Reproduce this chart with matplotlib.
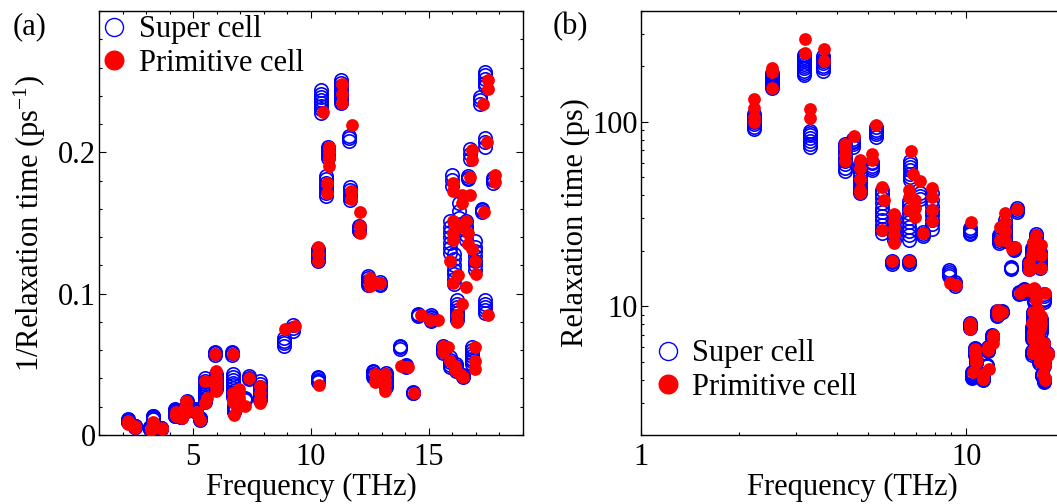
import numpy as np
import matplotlib
matplotlib.use("Agg")
import matplotlib.pyplot as plt
from matplotlib.lines import Line2D
from matplotlib.ticker import MultipleLocator, FixedLocator, FuncFormatter, LogLocator

plt.rcParams['font.family'] = ['Liberation Serif', 'DejaVu Serif']
plt.rcParams['mathtext.fontset'] = 'custom'
plt.rcParams['mathtext.rm'] = 'Liberation Serif'
plt.rcParams['mathtext.it'] = 'Liberation Serif:italic'

# relaxation time (ps), one column of points per frequency (THz)
# super cell
sc_freq = [2.22, 2.52, 3.17, 3.30, 3.64, 4.24, 4.50, 4.72, 5.13, 5.30,
           5.50, 5.98, 5.93, 6.65, 6.73, 6.68, 7.20, 7.38, 7.84, 8.86,
           9.22, 10.28, 10.28, 10.43, 10.64, 10.71, 11.28, 11.63, 11.66, 12.03,
           12.41, 12.91, 12.63, 13.20, 13.76, 14.05, 14.31, 14.54, 15.11, 15.61,
           15.90, 16.15, 16.46, 16.82, 16.18, 15.90, 16.05, 16.60, 16.96, 15.97,
           16.75, 16.68, 17.24, 17.74, 17.39, 17.39, 17.17, 17.39, 16.30]
sc_tau = [
    [91, 94, 97, 100, 104, 107, 110],
    [152, 156, 160, 165, 170, 175, 180, 185],
    [179, 184, 190, 195, 200, 206, 213, 219, 225, 232],
    [73.5, 76, 79, 82, 85, 87.5, 89.7],
    [190, 196, 202, 208, 214, 220, 227],
    [54, 56.5, 59, 61.5, 64, 67, 70, 73, 76],
    [73.4, 75.5, 77.5, 79, 80.7],
    [41, 42.5, 44.5, 46.5, 48.5, 51, 53.5, 56, 59.3],
    [55, 56.5, 58, 59.5, 60.5],
    [83, 85.5, 88, 90.5, 93.5],
    [25, 26.3, 27.7, 29.2, 30.8, 32.5, 34.3, 36.3, 38.5, 40.5, 42.6],
    [23, 24.3, 25.6, 27, 28.8, 30.6],
    [17.0, 17.3, 17.6],
    [17.0, 17.3, 17.6],
    [48.6, 50.5, 52.5, 54.7, 57, 59.3, 61.7],
    [23, 24.2, 25.5, 27, 28.5, 30.2, 32, 33.8, 35.6, 37.4],
    [38.2, 39.5, 40.9],
    [24, 24.6, 25.2],
    [26.2, 27.8, 29.5, 31.2, 33, 35, 37.5, 40.9],
    [14.6, 15.0, 15.4, 15.8],
    [12.8, 13.2, 13.6],
    [24.5, 25.0, 25.5, 26.0, 26.5],
    [7.6, 7.7, 7.8, 7.9, 8.0, 8.1],
    [4.1, 4.14, 4.18, 4.22, 4.26, 4.3, 4.34, 4.39],
    [5.46, 5.53, 5.6, 5.68, 5.75, 5.83, 5.92],
    [4.9, 4.95, 5.0, 5.05, 5.1],
    [3.98, 4.02, 4.05, 4.09, 4.12, 4.16, 4.19, 4.23, 4.26],
    [4.72, 4.76, 4.8],
    [5.71, 5.78, 5.86, 5.94, 6.02],
    [6.76, 6.82, 6.88, 6.94],
    [8.87, 9.0, 9.15, 9.3, 9.43],
    [9.25, 9.35, 9.45],
    [22, 22.5, 23.1, 23.6, 24.2],
    [22.7, 23.5, 24.5, 25.5, 26.6, 27.9, 29.4],
    [15.9, 16.15, 16.4],
    [20.2, 20.5, 20.8],
    [32.6, 33.3, 34.0],
    [11.7, 11.8, 11.9],
    [11.8, 11.95, 12.1, 12.25, 12.4],
    [15.9, 16.2, 16.6, 16.9, 17.3],
    [18.2, 18.8, 19.4, 20.1, 20.8],
    [20, 20.5, 21, 21.5, 22],
    [23.5, 24.0, 24.5],
    [16.1, 16.6, 17.2, 17.8, 18.5, 19.1, 19.8],
    [10.5, 10.8, 11, 11.3, 11.6, 11.9, 12.3],
    [6.6, 6.8, 6.95, 7.15, 7.35, 7.55, 7.75],
    [7.8, 8.05, 8.3, 8.55, 8.8, 9.05, 9.35],
    [6.6, 6.75, 6.9, 7.05, 7.25],
    [7.27, 7.5, 7.7, 7.9, 8.1, 8.3, 8.55],
    [5.43, 5.55, 5.68],
    [4.94, 5.03, 5.13],
    [5.45, 5.49, 5.53],
    [6.25, 6.29, 6.33],
    [5.5, 5.55, 5.6],
    [10.5, 10.8, 11, 11.3, 11.6],
    [3.89, 3.93, 3.97, 4.01, 4.05],
    [4.18, 4.22, 4.27],
    [4.76, 4.83, 4.9],
    [6.1, 6.3, 6.5],
]

# primitive cell
pc_freq = [2.23, 2.53, 3.19, 3.31, 3.66, 4.25, 4.52, 4.71, 5.15, 5.30,
           5.50, 5.60, 5.98, 5.93, 6.67, 6.75, 6.85, 6.68, 6.95, 7.21,
           7.38, 7.84, 8.90, 9.30, 10.33, 10.30, 10.50, 10.68, 10.75, 11.30,
           11.75, 11.70, 12.06, 12.49, 12.91, 12.70, 13.15, 13.84, 14.10, 14.37,
           14.65, 15.04, 15.40, 15.61, 15.82, 15.89, 16.11, 16.32, 16.46, 16.96,
           16.39, 16.21, 16.04, 16.25, 16.60, 16.68, 16.82, 17.00, 15.90, 16.01,
           16.75, 17.34, 17.81, 17.50, 17.53, 17.29, 17.49]
pc_tau = [
    [100, 106, 119, 133],
    [153, 186, 197],
    [237, 281],
    [105, 118],
    [215, 248],
    [61, 66, 72, 76],
    [84],
    [41, 42.5, 49, 56.5, 62],
    [62, 67],
    [96],
    [26, 44.5],
    [37.7],
    [22, 24.2, 26.5, 29, 31.8],
    [17.5],
    [17.5],
    [69.5],
    [52.5],
    [33.4, 39, 42.5],
    [30.5, 34, 37.7],
    [48],
    [24.9],
    [29, 33.4, 39, 43.6],
    [13.3],
    [13.0],
    [28.5],
    [7.5, 7.8, 8.1],
    [4.37],
    [5.6, 5.85],
    [4.9, 5.0, 5.1, 5.25],
    [4.03, 4.15, 4.26],
    [4.56],
    [5.8, 6.0],
    [6.35, 6.75, 7.0],
    [9.0, 9.25, 9.5],
    [9.3],
    [23, 26.8],
    [23, 25.5, 28.5, 32],
    [20.4],
    [20.9],
    [33.6],
    [11.8],
    [12.3],
    [12.3],
    [15.8, 17.1],
    [16.1],
    [19],
    [20.4, 21.9],
    [23.1],
    [24.4],
    [16.1, 19, 21.4, 8.1],
    [10.8, 5.9, 6.1],
    [11.8, 12.5],
    [6.6, 7.0, 7.25, 9.3],
    [6.8, 8.85],
    [6.6, 9.55],
    [7.0, 7.4],
    [7.6, 4.96, 5.14],
    [8.8],
    [8.1],
    [5.6, 5.8],
    [5.9, 5.47],
    [6.33],
    [5.44, 5.58],
    [11.8],
    [3.98, 4.08],
    [4.27],
    [4.82],
]


def expand(freq, tau):
    f = np.concatenate([[v] * len(t) for v, t in zip(freq, tau)])
    t = np.concatenate([np.asarray(t, dtype=float) for t in tau])
    return f, t


sc_f, sc_t = expand(sc_freq, sc_tau)
pc_f, pc_t = expand(pc_freq, pc_tau)

blue = '#0000ff'
red = '#ff0000'
fs = 22

fig = plt.figure(figsize=(10.57, 5.04), dpi=100)
ax1 = fig.add_axes([99 / 1057, 69 / 504, 424 / 1057, 424 / 504])
ax2 = fig.add_axes([641 / 1057, 69 / 504, 423 / 1057, 424 / 504])

for ax, yv_sc, yv_pc in [(ax1, 1.0 / sc_t, 1.0 / pc_t), (ax2, sc_t, pc_t)]:
    ax.plot(sc_f, yv_sc, 'o', ms=9.6, mfc='none', mec=blue, mew=1.2, zorder=2)
    ax.plot(pc_f, yv_pc, 'o', ms=9.2, mfc=red, mec='none', zorder=3)
    ax.tick_params(which='both', direction='in', top=True, right=True,
                   labelsize=fs, width=0.8)
    ax.tick_params(which='major', length=5)
    ax.tick_params(which='minor', length=2.5)
    ax.tick_params(axis='y', pad=2)
    ax.tick_params(axis='x', pad=6)
    for s in ax.spines.values():
        s.set_linewidth(1.0)

# (a)
ax1.set_xlim(1, 19)
ax1.set_ylim(0, 0.3)
ax1.xaxis.set_major_locator(FixedLocator([5, 10, 15]))
ax1.xaxis.set_minor_locator(MultipleLocator(1))
ax1.yaxis.set_major_locator(FixedLocator([0, 0.1, 0.2]))
ax1.yaxis.set_minor_locator(MultipleLocator(0.02))
ax1.yaxis.set_major_formatter(FuncFormatter(lambda v, p: '%g' % round(v, 3)))
ax1.set_xlabel('Frequency (THz)', fontsize=fs, labelpad=0.5)
ax1.set_ylabel('1/Relaxation time (ps$^{-1}$)', fontsize=fs)
ax1.yaxis.set_label_coords(-0.12, 0.5)

# (b)
ax2.set_xscale('log')
ax2.set_yscale('log')
ax2.set_xlim(1, 20)
ax2.set_ylim(2, 400)
ax2.xaxis.set_minor_locator(LogLocator(base=10, subs=np.arange(2, 10)))
ax2.yaxis.set_minor_locator(LogLocator(base=10, subs=np.arange(2, 10)))
fmt = FuncFormatter(lambda v, p: '%g' % v)
ax2.xaxis.set_major_formatter(fmt)
ax2.yaxis.set_major_formatter(fmt)
ax2.xaxis.set_minor_formatter(FuncFormatter(lambda v, p: ''))
ax2.yaxis.set_minor_formatter(FuncFormatter(lambda v, p: ''))
ax2.set_xlabel('Frequency (THz)', fontsize=fs, labelpad=0.5)
ax2.set_ylabel('Relaxation time (ps)', fontsize=fs)
ax2.yaxis.set_label_coords(-0.12, 0.5)

handles = [Line2D([], [], ls='none', marker='o', ms=13, mfc='none', mec=blue, mew=1.0),
           Line2D([], [], ls='none', marker='o', ms=14.4, mfc=red, mec='none')]
labels = ['Super cell', 'Primitive cell']
leg_kw = dict(frameon=False, fontsize=fs, borderpad=0, borderaxespad=0,
              handlelength=1.0, handletextpad=0.3, labelspacing=0.15)
ax1.legend(handles, labels, loc='upper left', bbox_to_anchor=(0.0, 0.99), **leg_kw)
ax2.legend(handles, labels, loc='lower left', bbox_to_anchor=(0.027, 0.078), **leg_kw)

fig.text(13 / 1057, 1 - 12 / 504, '(a)', fontsize=fs, va='top', ha='left')
fig.text(553 / 1057, 1 - 12 / 504, '(b)', fontsize=fs, va='top', ha='left')

fig.savefig('out.png', dpi=100)
